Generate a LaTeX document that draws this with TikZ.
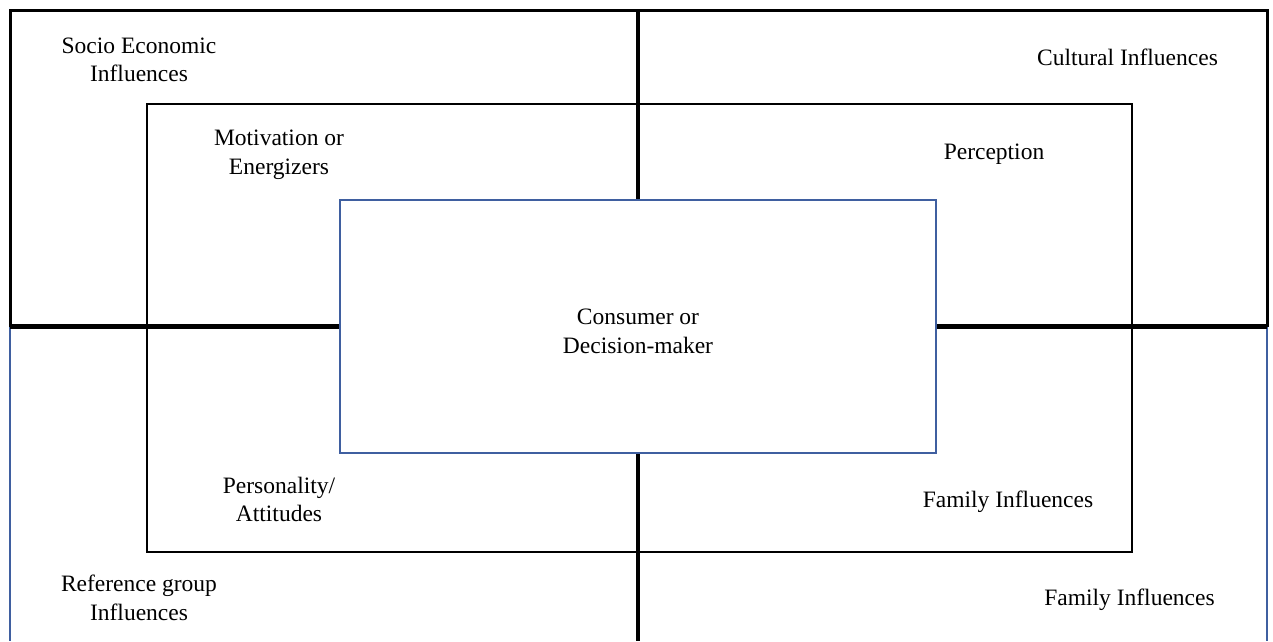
\documentclass[tikz,border=0pt]{standalone}
\usepackage{fontspec}
\setmainfont{Liberation Serif}
\definecolor{frameblue}{RGB}{63,95,160}
\pgfdeclarelayer{background}
\pgfsetlayers{background,main}
\begin{document}
\begin{tikzpicture}[x=1pt,y=-1pt,
  lbl/.style={align=center,inner sep=0pt,font=\fontsize{23.5}{28.5}\selectfont},
  frameblack/.style={draw=black,line width=3pt,line join=miter},
  frameside/.style={draw=frameblue,line width=2pt},
  divider/.style={draw=black,line width=4.5pt},
  midbox/.style={draw=black,line width=2.5pt,rectangle,inner sep=0pt},
  corebox/.style={draw=frameblue,line width=2.5pt,fill=white,rectangle,inner sep=0pt,
    text depth=9pt}]
\useasboundingbox (0,0) rectangle (1273,641);

% corners of the outer frame
\coordinate (otl) at (10,10);
\coordinate (otr) at (1267,10);
\coordinate (obl) at (10,641);
\coordinate (obr) at (1267,641);

% central decision-maker box
\node[corebox,minimum width=596pt,minimum height=253pt] (core) at (638,326.5)
  {\fontsize{23.5}{28.5}\selectfont\begin{tabular}{@{}c@{}}Consumer or\\Decision-maker\end{tabular}};

\begin{pgfonlayer}{background}
  % outer frame: black upper half, blue sides below
  \draw[frameblack] (core.west -| otl) -- (otl) -- (otr) -- (core.east -| otr);
  \draw[frameside] (core.west -| otl) -- (obl);
  \draw[frameside] (core.east -| otr) -- (obr);

  % quadrant dividers
  \draw[divider] (core.north) -- (core.north |- otl);
  \draw[divider] (core.south) -- (core.south |- obl);
  \draw[divider] (core.west) -- (core.west -| otl);
  \draw[divider] (core.east) -- (core.east -| otr);

  % inner ring of factors
  \node[midbox,minimum width=985pt,minimum height=448pt] (mid) at (639.5,328) {};
\end{pgfonlayer}

% outer influences
\node[lbl] (socio) at (139,60) {Socio Economic\\Influences};
\node[lbl] (cult) at (1127.5,57) {Cultural Influences};
\node[lbl] (refgrp) at (139,598) {Reference group\\Influences};
\node[lbl] (famout) at (1129.5,599.5) {Family Influences};

% inner factors
\node[lbl] (motiv) at (279,154.5) {Motivation or\\Energizers};
\node[lbl] (percep) at (994,154.5) {Perception};
\node[lbl] (person) at (279,499.5) {Personality/\\Attitudes};
\node[lbl] (famin) at (1008,502) {Family Influences};
\end{tikzpicture}
\end{document}
